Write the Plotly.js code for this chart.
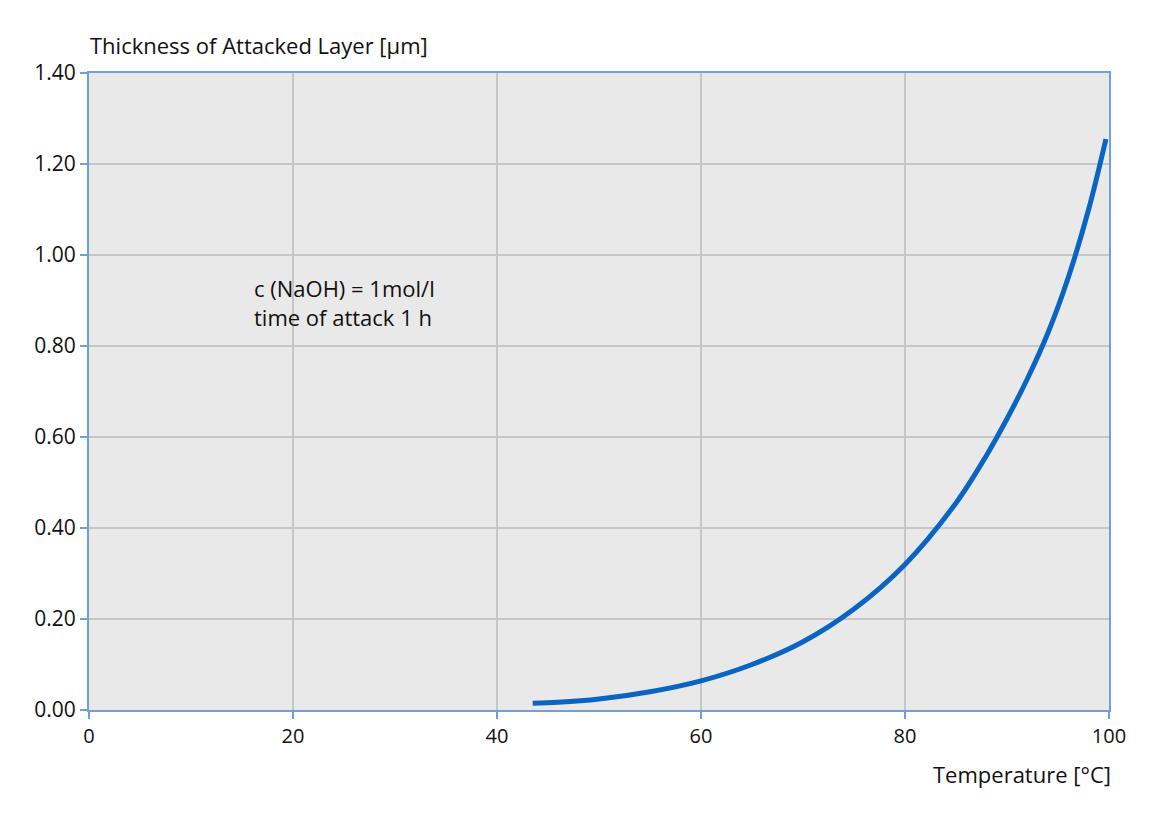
<!DOCTYPE html>
<html>
<head>
<meta charset="utf-8">
<script src="https://cdn.plot.ly/plotly-3.0.1.min.js"></script>
<style>html,body{margin:0;padding:0;background:#fff;}#chart{width:1170px;height:826px;}</style>
</head>
<body>
<div id="chart"></div>
<script>
const temperature = [43.5, 46, 50, 55, 60, 65, 70, 75, 80, 85, 88, 90, 92, 94, 96, 98, 99.7];
const thickness = [0.015, 0.017, 0.024, 0.040, 0.064, 0.100, 0.150, 0.222, 0.320, 0.455, 0.560, 0.640, 0.728, 0.828, 0.950, 1.100, 1.255];
const yTitle = "Thickness of Attacked Layer [µm]";
const xTitle = "Temperature [°C]";
const noteLines = ["c (NaOH) = 1mol/l", "time of attack 1 h"];

const FONT = "Open Sans, sans-serif";
const axisBlue = "#6f9fdc";
const TXT = "#111111";

const trace = {
  x: temperature, y: thickness, type: "scatter", mode: "lines",
  line: {color: "#0a64c2", width: 5, shape: "spline", smoothing: 1},
  hoverinfo: "skip"
};

const layout = {
  width: 1170, height: 826,
  margin: {l: 89, r: 61, t: 73, b: 116},
  paper_bgcolor: "#ffffff",
  plot_bgcolor: "#e9e9e9",
  showlegend: false,
  font: {family: FONT, size: 21, color: TXT},
  xaxis: {
    range: [0, 100], dtick: 20, tick0: 0,
    showgrid: true, gridcolor: "#c6c6c6", gridwidth: 2,
    zeroline: false,
    showline: true, linecolor: axisBlue, linewidth: 2, mirror: true,
    ticks: "outside", ticklen: 7, tickcolor: axisBlue, tickwidth: 2,
    tickfont: {family: FONT, size: 20, color: TXT}
  },
  yaxis: {
    range: [0, 1.4], dtick: 0.2, tick0: 0, tickformat: ".2f",
    showgrid: true, gridcolor: "#c6c6c6", gridwidth: 2,
    zeroline: false,
    showline: true, linecolor: axisBlue, linewidth: 2, mirror: true,
    ticks: "outside", ticklen: 7, tickcolor: axisBlue, tickwidth: 2,
    tickfont: {family: FONT, size: 21, color: TXT}
  },
  annotations: [
    {text: yTitle, xref: "paper", yref: "paper", x: 0, y: 1, xanchor: "left", yanchor: "bottom",
     yshift: 11, xshift: -1, showarrow: false, font: {family: FONT, size: 22, color: TXT}},
    {text: xTitle, xref: "paper", yref: "paper", x: 1, y: 0, xanchor: "right", yanchor: "top",
     yshift: -47, xshift: 4, showarrow: false, font: {family: FONT, size: 22, color: TXT}},
    {text: noteLines.join("<br>"), xref: "x", yref: "y", x: 16, y: 0.895, xanchor: "left", yanchor: "middle",
     align: "left", showarrow: false, font: {family: FONT, size: 22, color: TXT}}
  ]
};

Plotly.newPlot("chart", [trace], layout, {displayModeBar: false, staticPlot: true});
</script>
</body>
</html>
